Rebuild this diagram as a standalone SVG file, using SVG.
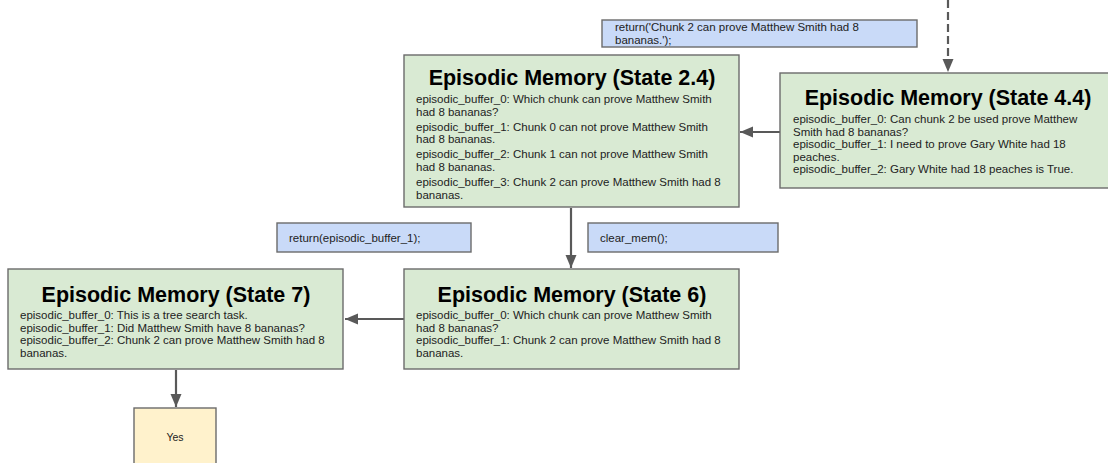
<svg xmlns="http://www.w3.org/2000/svg" width="1108" height="463" viewBox="0 0 1108 463">
<style>
.mem{fill:#d9ead3;stroke:#6b6b6b;stroke-width:1.4}
.cmd{fill:#c9daf8;stroke:#6b6b6b;stroke-width:1.4}
.ans{fill:#fff2cc;stroke:#6b6b6b;stroke-width:1.4}
.title{font-family:"Liberation Sans",Arial,sans-serif;font-size:21.5px;font-weight:bold;fill:#000;text-anchor:middle}
.body{font-family:"Liberation Sans",Arial,sans-serif;font-size:11.5px;fill:#222}
.small{font-family:"Liberation Sans",Arial,sans-serif;font-size:10.5px;fill:#222}
.conn{stroke:#595959;stroke-width:2.2;fill:none}
.dash{stroke-dasharray:8,4}
</style>
<defs>
<marker id="ah" markerUnits="userSpaceOnUse" markerWidth="14" markerHeight="12" refX="13" refY="5.5" orient="auto">
<path d="M0,0 L13,5.5 L0,11 z" fill="#595959"/>
</marker>
</defs>
<rect width="1108" height="463" fill="#fff"/>
<g id="connectors">
<line class="conn dash" x1="948" y1="0" x2="948" y2="72" marker-end="url(#ah)"/>
<line class="conn" x1="780" y1="132" x2="740" y2="132" marker-end="url(#ah)"/>
<line class="conn" x1="571" y1="208" x2="571" y2="268" marker-end="url(#ah)"/>
<line class="conn" x1="404" y1="319" x2="345" y2="319" marker-end="url(#ah)"/>
<line class="conn" x1="176" y1="370" x2="176" y2="407" marker-end="url(#ah)"/>
</g>
<g id="cmd-return-chunk2">
<rect class="cmd" x="602" y="20" width="315" height="27"/>
<text class="body" x="615" y="30.5">return('Chunk 2 can prove Matthew Smith had 8</text>
<text class="body" x="615" y="44">bananas.');</text>
</g>
<g id="state-2-4">
<rect class="mem" x="404" y="55" width="335" height="152"/>
<text class="title" x="572" y="85">Episodic Memory (State 2.4)</text>
<text class="body" x="416" y="103">episodic_buffer_0: Which chunk can prove Matthew Smith</text>
<text class="body" x="416" y="115.7">had 8 bananas?</text>
<text class="body" x="416" y="130.5">episodic_buffer_1: Chunk 0 can not prove Matthew Smith</text>
<text class="body" x="416" y="143.2">had 8 bananas.</text>
<text class="body" x="416" y="158">episodic_buffer_2: Chunk 1 can not prove Matthew Smith</text>
<text class="body" x="416" y="170.7">had 8 bananas.</text>
<text class="body" x="416" y="185.7">episodic_buffer_3: Chunk 2 can prove Matthew Smith had 8</text>
<text class="body" x="416" y="198.7">bananas.</text>
</g>
<g id="state-4-4">
<rect class="mem" x="780" y="73" width="335" height="115"/>
<text class="title" x="948" y="105">Episodic Memory (State 4.4)</text>
<text class="body" x="793" y="123.3">episodic_buffer_0: Can chunk 2 be used prove Matthew</text>
<text class="body" x="793" y="135.8">Smith had 8 bananas?</text>
<text class="body" x="793" y="148.3">episodic_buffer_1: I need to prove Gary White had 18</text>
<text class="body" x="793" y="160.8">peaches.</text>
<text class="body" x="793" y="173.3">episodic_buffer_2: Gary White had 18 peaches is True.</text>
</g>
<g id="cmd-return-buffer1">
<rect class="cmd" x="277" y="223" width="194" height="29"/>
<text class="body" x="289" y="242.3">return(episodic_buffer_1);</text>
</g>
<g id="cmd-clear-mem">
<rect class="cmd" x="588" y="223" width="190" height="29"/>
<text class="body" x="600" y="242.3">clear_mem();</text>
</g>
<g id="state-7">
<rect class="mem" x="8" y="269" width="335" height="100"/>
<text class="title" x="176" y="301.5">Episodic Memory (State 7)</text>
<text class="body" x="20" y="319">episodic_buffer_0: This is a tree search task.</text>
<text class="body" x="20" y="331.5">episodic_buffer_1: Did Matthew Smith have 8 bananas?</text>
<text class="body" x="20" y="344">episodic_buffer_2: Chunk 2 can prove Matthew Smith had 8</text>
<text class="body" x="20" y="356.5">bananas.</text>
</g>
<g id="state-6">
<rect class="mem" x="404" y="269" width="335" height="100"/>
<text class="title" x="572" y="301.5">Episodic Memory (State 6)</text>
<text class="body" x="416" y="319">episodic_buffer_0: Which chunk can prove Matthew Smith</text>
<text class="body" x="416" y="331.5">had 8 bananas?</text>
<text class="body" x="416" y="344">episodic_buffer_1: Chunk 2 can prove Matthew Smith had 8</text>
<text class="body" x="416" y="356.5">bananas.</text>
</g>
<g id="answer-yes">
<rect class="ans" x="134" y="408" width="82" height="70"/>
<text class="small" x="175" y="440.5" text-anchor="middle">Yes</text>
</g>
</svg>
